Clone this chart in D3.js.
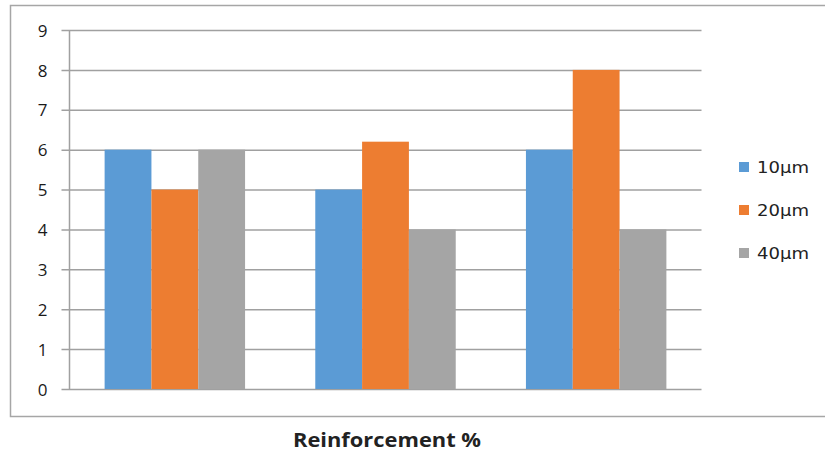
<!DOCTYPE html>
<html><head><meta charset="utf-8">
<script src="https://cdn.jsdelivr.net/npm/d3@7"></script>
<style>html,body{margin:0;padding:0;background:#fff;}svg{display:block;}</style>
</head><body>
<svg id="c" width="825" height="454"></svg>
<script>
const categories = ["A", "B", "C"];
const seriesNames = ["10μm", "20μm", "40μm"];
const values10 = [6, 5, 6];
const values20 = [5, 6.2, 8];
const values40 = [6, 4, 4];
const yTicks = [0, 1, 2, 3, 4, 5, 6, 7, 8, 9];
const colors = ["#5B9BD5", "#ED7D31", "#A5A5A5"];
const xTitle = "Reinforcement %";

(function () {
const series = [values10, values20, values40];
const svg = d3.select("#c");

// outer chart border (open on the right, as in the reference)
svg.append("path")
  .attr("d", "M825,5.5 H10.5 V416.5 H825")
  .attr("fill", "none").attr("stroke", "#a6a6a6").attr("stroke-width", 1.5);

const pL = 69.5, pR = 701.5, pT = 30, pB = 389;
const y = d3.scaleLinear().domain([0, 9]).range([pB, pT]);
const x0 = d3.scaleBand().domain(categories).range([pL, pR]).paddingInner(0.3333).paddingOuter(0.1667);
const x1 = d3.scaleBand().domain(seriesNames).range([0, x0.bandwidth()]);

// gridlines + ticks via axis
const yAxis = d3.axisLeft(y).tickValues(yTicks).tickSize(-(pR - pL)).tickPadding(16).tickFormat(d3.format("d"));
const gy = svg.append("g").attr("transform", `translate(${pL},0)`).call(yAxis);
gy.attr("font-size", null).attr("font-family", null);
gy.select(".domain").remove();
gy.selectAll(".tick line").attr("stroke", "#a0a0a0").attr("stroke-width", 1.5).attr("x1", -8);
gy.selectAll(".tick text").attr("fill", "#1a1a1a").attr("font-family", "'Open Sans', sans-serif")
  .attr("font-size", 17).attr("x", -27).attr("text-anchor", "middle").attr("dy", "0.36em");

// bars
categories.forEach((c, i) => {
  series.forEach((s, j) => {
    svg.append("rect")
      .attr("x", x0(c) + x1(seriesNames[j]))
      .attr("width", x1.bandwidth())
      .attr("y", y(s[i]))
      .attr("height", y(0) - y(s[i]))
      .attr("fill", colors[j]);
  });
});

// vertical axis line
svg.append("line").attr("x1", pL).attr("x2", pL).attr("y1", pT).attr("y2", pB)
  .attr("stroke", "#a0a0a0").attr("stroke-width", 1.5);

// legend
const legY = d3.scalePoint().domain(seriesNames).range([167, 253]);
seriesNames.forEach((n, j) => {
  svg.append("rect").attr("x", 739).attr("y", legY(n) - 5).attr("width", 10).attr("height", 10).attr("fill", colors[j]);
  svg.append("text").attr("x", 757).attr("y", legY(n)).attr("dy", "0.36em")
    .attr("textLength", 52).attr("lengthAdjust", "spacingAndGlyphs")
    .style("font-family", "'DejaVu Sans', sans-serif").style("font-size", "16px").attr("fill", "#222").text(n);
});

// x title
svg.append("text").attr("x", 387).attr("y", 447).attr("text-anchor", "middle")
  .attr("textLength", 188).attr("lengthAdjust", "spacingAndGlyphs")
  .style("font-family", "'Open Sans', sans-serif").style("font-weight", "bold").style("font-size", "19px")
  .attr("fill", "#222").text(xTitle);
})();
</script>
</body></html>
